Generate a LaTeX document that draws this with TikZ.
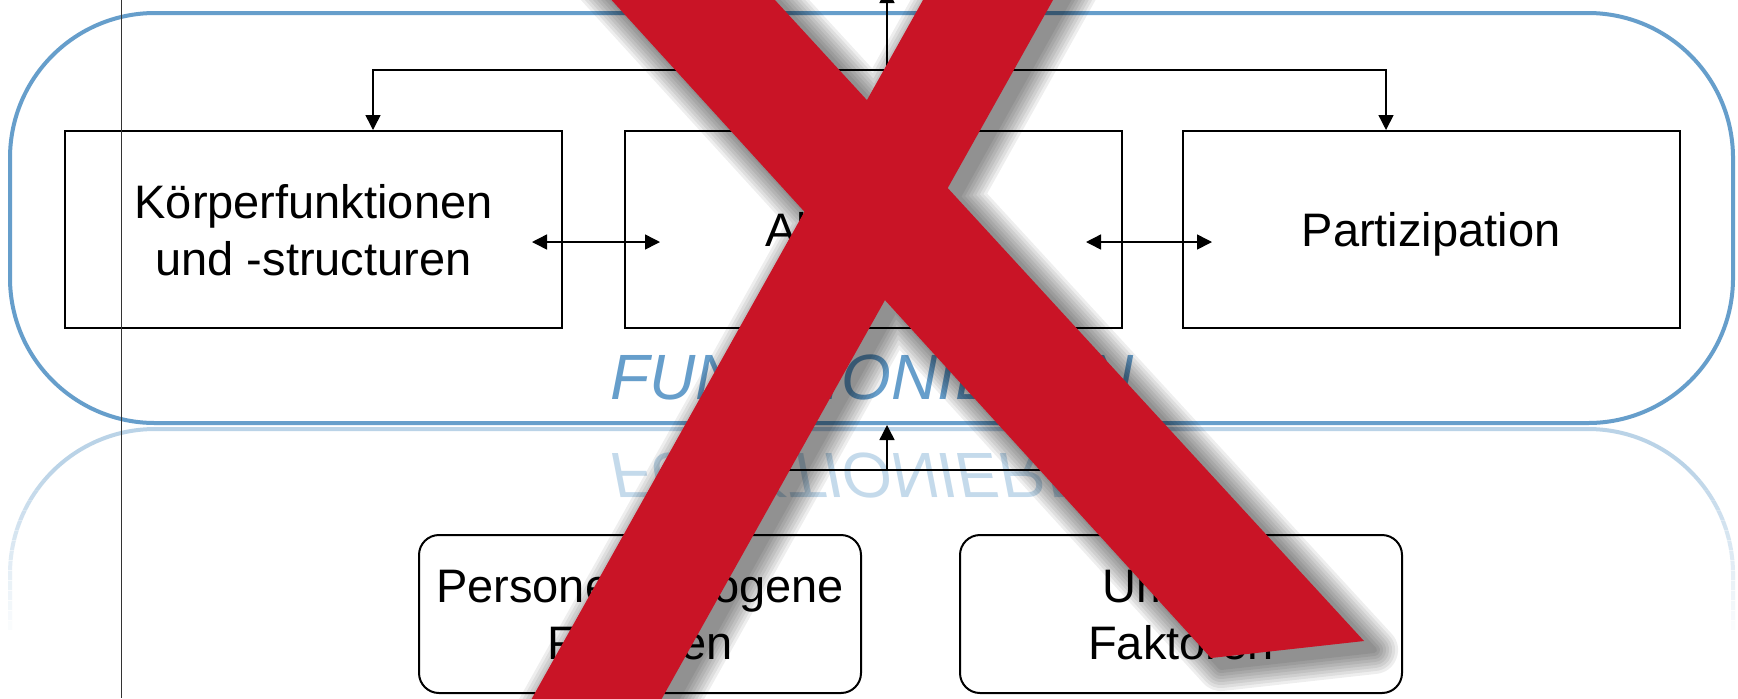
\documentclass[tikz,border=0pt]{standalone}
\usepackage{fontspec}
\setmainfont{Liberation Sans}
\usetikzlibrary{arrows.meta}
\definecolor{fblue}{RGB}{102,158,203}
\definecolor{xred}{RGB}{201,20,38}
\begin{document}
\begin{tikzpicture}[x=0.5pt,y=-0.5pt,
  box/.style={draw=black, line width=1pt, fill=white, minimum width=248.5pt, minimum height=98.5pt, inner sep=0pt, align=center, font=\fontsize{23.5}{28.5}\selectfont, text depth=0pt},
  rbox/.style={box, rounded corners=10pt, minimum width=221pt, minimum height=79pt},
  conn/.style={line width=0.75pt, draw=black},
  arr/.style={conn, -{Triangle[length=7.5pt,width=7.5pt]}},
  dblarr/.style={conn, {Triangle[length=7.5pt,width=7.5pt]}-{Triangle[length=7.5pt,width=7.5pt]}},
  funkfont/.style={font=\fontsize{32}{38}\selectfont\itshape},
  xstroke/.style={fill=xred}]

\useasboundingbox (0,0) rectangle (1738,698);
\clip (0,0) rectangle (1738,698);
\fill[white] (0,0) rectangle (1738,698);

% reflection
\draw[fblue, line width=2pt, rounded corners=72.5pt, draw opacity=0.45]
  (10,630) -- (10,429) -- (1733,429) -- (1733,630);
% fade the reflected sides out
\foreach \i [evaluate=\i as \op using \i/17] in {1,...,17} {
  \fill[white, opacity=\op] (0,460+\i*10) rectangle (116,471+\i*10);
  \fill[white, opacity=\op] (1622,460+\i*10) rectangle (1738,471+\i*10);
}
\begin{scope}[shift={(872,453)}]
  \node[funkfont, text=fblue, text opacity=0.38, yscale=-1, transform shape, anchor=base, inner sep=0pt] (funkrefl) at (0,0) {FUNKTIONIEREN};
\end{scope}

% main frame
\node[draw=fblue, line width=2pt, rounded corners=72.5pt, minimum width=861.5pt, minimum height=205pt, inner sep=0pt] (funktion) at (871.5,218) {};
\node[funkfont, text=fblue, anchor=base, inner sep=0pt] (funk) at (872,399) {FUNKTIONIEREN};

% boxes
\node[box] (koerper) at (313.5,229.5) {Körperfunktionen\\und -structuren};
\node[box] (akt) at (873.5,229.5) {Aktivitäten};
\node[box] (part) at (1431,229.5) {Partizipation};
\node[rbox] (pers) at (640,614) {Personenbezogene\\Faktoren};
\node[rbox] (umw) at (1181,614) {Umwelt\\Faktoren};

% connectors
\coordinate (hub) at (887,70);
\coordinate (topend) at (887,-12);
\draw[arr] (hub) -- (topend);
\draw[arr] (hub) -| ([xshift=29.75pt]koerper.north);
\draw[arr] (hub) -| ([xshift=-22.5pt]part.north);
\draw[dblarr] ([shift={(-31,12.5)}]koerper.east) -- ([shift={(36,12.5)}]akt.west);
\draw[dblarr] ([shift={(-37,12.5)}]akt.east) -- ([shift={(30.5,12.5)}]part.west);

\coordinate (chub) at (887,470);
\draw[conn] ([xshift=41pt]pers.north) |- (chub) -| ([xshift=-15.5pt]umw.north);
\draw[arr] (chub) -- ([xshift=7.75pt]funktion.south);

% thin vertical line
\coordinate (vt) at (121,0);
\coordinate (vb) at (121,698);
\draw[line width=0.5pt, black!80] (vt) -- (vb);

% X shadow
\foreach \w in {24,21,18,15,12,9,6,3} {
  \begin{scope}[transparency group, opacity=0.065]
    \filldraw[black, line width=\w pt, line join=round, shift={(10,9)}]
      (566,-50) -- (729,-50) -- (1364,641) -- (1211,658) -- cycle
      (951,-50) -- (1081,-50) -- (633,750) -- (503,750) -- cycle;
  \end{scope}
}
% X
\fill[xstroke] (566,-50) -- (729,-50) -- (1364,641) -- (1211,658) -- cycle;
\fill[xstroke] (951,-50) -- (1081,-50) -- (633,750) -- (503,750) -- cycle;
\end{tikzpicture}
\end{document}
